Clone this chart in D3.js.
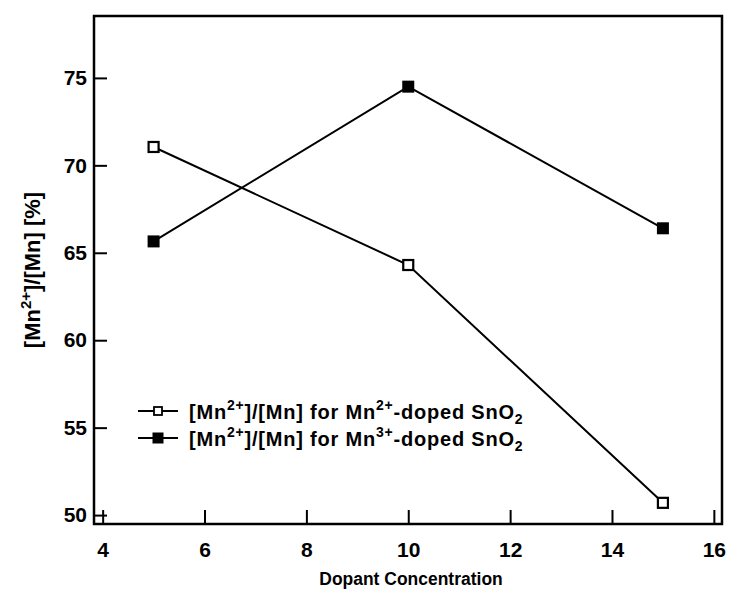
<!DOCTYPE html>
<html>
<head>
<meta charset="utf-8">
<script src="https://cdn.jsdelivr.net/npm/d3@7"></script>
<style>
  body { margin: 0; background: #fff; }
  svg text { font-family: "Liberation Sans", Arial, sans-serif; font-weight: bold; fill: #000; }
</style>
</head>
<body>
<svg id="chart" width="729" height="602"></svg>
<script>
'use strict';

// data
const dopant = [5, 10, 15];
const mn2Doped = [71.05, 64.3, 50.7];   // open squares
const mn3Doped = [65.65, 74.5, 66.4];   // filled squares
const xTicks = [4, 6, 8, 10, 12, 14, 16];
const yTicks = [50, 55, 60, 65, 70, 75];

const box = { left: 94, right: 722, top: 16, bottom: 524 };

const svg = d3.select('#chart');

const x = d3.scaleLinear().domain([3.83, 16.16]).range([box.left, box.right]);
const y = d3.scaleLinear().domain([49.49, 78.54]).range([box.bottom, box.top]);

// frame
svg.append('rect')
	.attr('x', box.left).attr('y', box.top)
	.attr('width', box.right - box.left).attr('height', box.bottom - box.top)
	.attr('fill', 'none').attr('stroke', '#000').attr('stroke-width', 2.5);

// x axis, ticks inward
const xAxis = svg.append('g')
	.attr('transform', `translate(0,${box.bottom})`)
	.call(d3.axisBottom(x).tickValues(xTicks).tickSizeInner(-14).tickSizeOuter(0).tickPadding(18));
xAxis.select('.domain').remove();
xAxis.selectAll('line').attr('stroke-width', 2);
xAxis.selectAll('text').style('font-size', '21px');

// y axis, ticks inward
const yAxis = svg.append('g')
	.attr('transform', `translate(${box.left},0)`)
	.call(d3.axisLeft(y).tickValues(yTicks).tickSizeInner(-13).tickSizeOuter(0).tickPadding(7));
yAxis.select('.domain').remove();
yAxis.selectAll('line').attr('stroke-width', 2);
yAxis.selectAll('text').style('font-size', '21px');

// axis titles
svg.append('text')
	.attr('transform', 'translate(411,585) scale(0.92,1)')
	.attr('text-anchor', 'middle')
	.style('font-size', '19px')
	.text('Dopant Concentration');

const yTitle = svg.append('text')
	.attr('transform', 'translate(40,270) rotate(-90)')
	.attr('text-anchor', 'middle')
	.style('font-size', '22px');
yTitle.append('tspan').text('[Mn');
yTitle.append('tspan').attr('dy', -9).style('font-size', '15px').text('2+');
yTitle.append('tspan').attr('dy', 9).text(']/[Mn] [%]');

// series
const series = [
	{ values: mn2Doped, filled: false, ion: '2+' },
	{ values: mn3Doped, filled: true, ion: '3+' }
];

const line = d3.line()
	.x(d => x(d[0]))
	.y(d => y(d[1]));

series.forEach(s => {
	const pts = dopant.map((d, i) => [d, s.values[i]]);
	svg.append('path')
		.attr('d', line(pts))
		.attr('fill', 'none')
		.attr('stroke', '#000')
		.attr('stroke-width', 2);

	const size = s.filled ? 12 : 10;
	svg.selectAll(null)
		.data(pts)
		.enter().append('rect')
		.attr('x', d => x(d[0]) - size / 2)
		.attr('y', d => y(d[1]) - size / 2)
		.attr('width', size).attr('height', size)
		.attr('fill', s.filled ? '#000' : '#fff')
		.attr('stroke', '#000')
		.attr('stroke-width', s.filled ? 0 : 2.2);
});

// legend
const legend = svg.append('g');
series.forEach((s, i) => {
	const ly = 411 + i * 27;
	legend.append('line')
		.attr('x1', 138).attr('x2', 178)
		.attr('y1', ly).attr('y2', ly)
		.attr('stroke', '#000').attr('stroke-width', 2);
	const size = s.filled ? 11 : 8;
	legend.append('rect')
		.attr('x', 158 - size / 2).attr('y', ly - size / 2)
		.attr('width', size).attr('height', size)
		.attr('fill', s.filled ? '#000' : '#fff')
		.attr('stroke', '#000')
		.attr('stroke-width', s.filled ? 0 : 1.8);

	const t = legend.append('text')
		.attr('x', 189).attr('y', ly + 8)
		.style('font-size', '20px')
		.style('letter-spacing', '0.8px');
	t.append('tspan').text('[Mn');
	t.append('tspan').attr('dy', -9).style('font-size', '14px').text('2+');
	t.append('tspan').attr('dy', 9).text(']/[Mn] for Mn');
	t.append('tspan').attr('dy', -9).style('font-size', '14px').text(s.ion);
	t.append('tspan').attr('dy', 9).text('-doped SnO');
	t.append('tspan').attr('dy', 5).style('font-size', '14px').text('2');
});
</script>
</body>
</html>
